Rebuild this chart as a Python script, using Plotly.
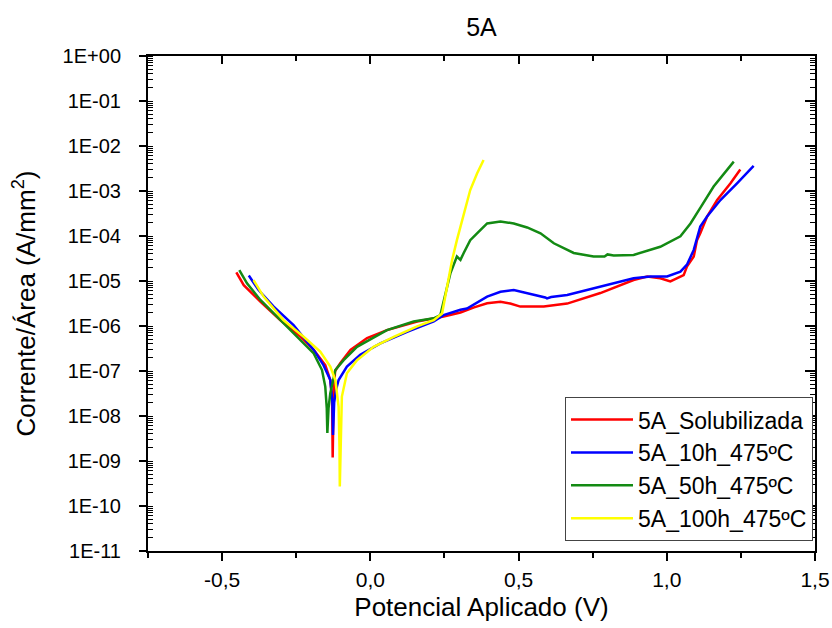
import plotly.graph_objects as go

# ---- data (potential in V, current density in A/mm^2) ----
sol_v = [-0.452, -0.427, -0.371, -0.304, -0.236, -0.191, -0.152, -0.135, -0.129, -0.127,
         -0.124, -0.119, -0.101, -0.067, -0.011, 0.056, 0.158, 0.247, 0.304, 0.326,
         0.350, 0.394, 0.439, 0.472, 0.506, 0.585, 0.664, 0.776, 0.888, 0.934,
         0.978, 1.012, 1.035, 1.057, 1.068, 1.091, 1.102, 1.113, 1.136, 1.170, 1.215, 1.248]
sol_i = [1.55e-5, 8.1e-6, 3.5e-6, 1.35e-6, 5.8e-7, 2.95e-7, 1.35e-7, 6.3e-8, 2.5e-8, 1.2e-9,
         2.5e-8, 1.0e-7, 1.5e-7, 2.95e-7, 5.4e-7, 8.1e-7, 1.26e-6, 1.62e-6, 2.0e-6, 2.3e-6,
         2.6e-6, 3.2e-6, 3.45e-6, 3.15e-6, 2.7e-6, 2.7e-6, 3.15e-6, 5.4e-6, 1.05e-5, 1.26e-5,
         1.15e-5, 9.8e-6, 1.15e-5, 1.35e-5, 2.1e-5, 3.5e-5, 8.1e-5, 1.15e-4, 2.7e-4, 6.3e-4, 1.48e-3, 3.0e-3]

h10_v = [-0.410, -0.377, -0.326, -0.259, -0.191, -0.158, -0.135, -0.128, -0.126, -0.122,
         -0.115, -0.107, -0.079, -0.034, 0.034, 0.124, 0.214, 0.247, 0.304, 0.326,
         0.394, 0.439, 0.484, 0.529, 0.574, 0.590, 0.596, 0.610, 0.664, 0.776,
         0.888, 0.945, 1.001, 1.046, 1.068, 1.091, 1.113, 1.136, 1.181, 1.237, 1.293]
h10_i = [1.32e-5, 6.3e-6, 2.7e-6, 1.05e-6, 2.95e-7, 1.35e-7, 6.3e-8, 2.0e-8, 3.8e-9, 2.0e-8,
         4.0e-8, 6.3e-8, 1.26e-7, 2.3e-7, 4.1e-7, 7.4e-7, 1.26e-6, 1.74e-6, 2.3e-6, 2.45e-6,
         4.5e-6, 5.75e-6, 6.3e-6, 5.4e-6, 4.7e-6, 4.3e-6, 4.1e-6, 4.4e-6, 4.9e-6, 7.4e-6,
         1.15e-5, 1.26e-5, 1.26e-5, 1.62e-5, 2.3e-5, 4.9e-5, 1.62e-4, 2.7e-4, 6.3e-4, 1.48e-3, 3.6e-3]

h50_v = [-0.442, -0.416, -0.371, -0.304, -0.236, -0.191, -0.163, -0.152, -0.147, -0.145,
         -0.141, -0.135, -0.118, -0.090, -0.045, 0.023, 0.056, 0.146, 0.214, 0.236,
         0.252, 0.270, 0.292, 0.304, 0.315, 0.337, 0.360, 0.394, 0.439, 0.484,
         0.529, 0.574, 0.619, 0.686, 0.753, 0.790, 0.800, 0.821, 0.888, 0.978,
         1.046, 1.080, 1.113, 1.158, 1.226]
h50_i = [1.75e-5, 8.9e-6, 3.8e-6, 1.35e-6, 4.9e-7, 2.45e-7, 1.05e-7, 4.5e-8, 1.5e-8, 4.2e-9,
         1.5e-8, 3.2e-8, 1.05e-7, 1.74e-7, 3.45e-7, 6.3e-7, 8.1e-7, 1.26e-6, 1.48e-6, 1.74e-6,
         4.5e-6, 1.48e-5, 3.5e-5, 2.95e-5, 4.2e-5, 8.1e-5, 1.15e-4, 1.9e-4, 2.1e-4, 1.9e-4,
         1.55e-4, 1.15e-4, 6.9e-5, 4.2e-5, 3.5e-5, 3.5e-5, 3.9e-5, 3.7e-5, 3.8e-5, 5.75e-5,
         9.8e-5, 1.9e-4, 4.2e-4, 1.26e-3, 4.5e-3]

h100_v = [-0.394, -0.360, -0.293, -0.225, -0.169, -0.135, -0.118, -0.107, -0.104, -0.103,
          -0.100, -0.096, -0.079, -0.045, 0.011, 0.079, 0.158, 0.214, 0.242, 0.259,
          0.276, 0.292, 0.315, 0.337, 0.360, 0.382]
h100_i = [1.05e-5, 4.5e-6, 1.35e-6, 5.75e-7, 2.7e-7, 1.26e-7, 6.3e-8, 1.6e-8, 2.0e-9, 2.7e-10,
          2.0e-9, 2.7e-8, 8.9e-8, 1.74e-7, 3.45e-7, 5.75e-7, 9.8e-7, 1.35e-6, 1.9e-6, 7.6e-6,
          2.95e-5, 8.1e-5, 3.2e-4, 1.05e-3, 2.45e-3, 4.9e-3]

series_names = ["5A_Solubilizada", "5A_10h_475ºC", "5A_50h_475ºC", "5A_100h_475ºC"]
series_colors = ["#FF0000", "#0000FF", "#138A13", "#FFFF00"]

x_tickvals = [-0.5, 0.0, 0.5, 1.0, 1.5]
x_ticktext = ["-0,5", "0,0", "0,5", "1,0", "1,5"]
y_tickvals = [1e0, 1e-1, 1e-2, 1e-3, 1e-4, 1e-5, 1e-6, 1e-7, 1e-8, 1e-9, 1e-10, 1e-11]
y_ticktext = ["1E+00", "1E-01", "1E-02", "1E-03", "1E-04", "1E-05", "1E-06",
              "1E-07", "1E-08", "1E-09", "1E-10", "1E-11"]

FONT = "Liberation Sans, Arial, sans-serif"

fig = go.Figure()
for v, i, name, col in zip([sol_v, h10_v, h50_v, h100_v], [sol_i, h10_i, h50_i, h100_i],
                           series_names, series_colors):
    fig.add_trace(go.Scatter(x=v, y=i, mode="lines", name=name,
                             line=dict(color=col, width=2.5)))

# invisible trace to carry the mirrored (top/right) axes
fig.add_trace(go.Scatter(x=[None], y=[None], xaxis="x2", yaxis="y2",
                         showlegend=False, hoverinfo="skip"))

fig.update_layout(
    width=832, height=628,
    paper_bgcolor="white", plot_bgcolor="white",
    margin=dict(l=148, r=17, t=56, b=77, autoexpand=False),
    font=dict(family=FONT, color="black"),
    title=dict(text="5A", x=0.5, xref="paper", xanchor="center",
               y=1 - 27 / 628, yanchor="middle", font=dict(size=25, family=FONT)),
    xaxis=dict(range=[-0.75, 1.5], tickmode="array", tickvals=x_tickvals, ticktext=x_ticktext,
               automargin=False, ticklabelstandoff=1,
               showline=True, linecolor="black", linewidth=2, showgrid=False, zeroline=False,
               ticks="outside", ticklen=8, tickwidth=2, tickcolor="black",
               tickfont=dict(size=21, family=FONT),
               minor=dict(dtick=0.25, tick0=0, ticks="outside", ticklen=5, tickwidth=1.5,
                          tickcolor="black", showgrid=False),
               title=dict(text="Potencial Aplicado (V)", font=dict(size=26, family=FONT), standoff=8)),
    yaxis=dict(type="log", range=[-11, 0], tickmode="array", tickvals=y_tickvals, ticktext=y_ticktext,
               automargin=False, ticklabelstandoff=14,
               showline=True, linecolor="black", linewidth=2, showgrid=False, zeroline=False,
               ticks="outside", ticklen=7, tickwidth=2, tickcolor="black",
               tickfont=dict(size=20, family=FONT),
               minor=dict(dtick="D1", ticks="inside", ticklen=5, tickwidth=1,
                          tickcolor="black", showgrid=False),
               title=dict(text="Corrente/Área (A/mm<sup>2</sup>)", font=dict(size=26, family=FONT),
                          standoff=20)),
    xaxis2=dict(overlaying="x", side="top", anchor="y2", range=[-0.75, 1.5],
                automargin=False,
                tickmode="array", tickvals=x_tickvals, showticklabels=False,
                showline=True, linecolor="black", linewidth=2, showgrid=False, zeroline=False,
                ticks="inside", ticklen=8, tickwidth=2, tickcolor="black",
                minor=dict(dtick=0.25, tick0=0, ticks="inside", ticklen=5, tickwidth=1.5,
                           tickcolor="black", showgrid=False)),
    yaxis2=dict(overlaying="y", side="right", anchor="x2", type="log", range=[-11, 0],
                automargin=False,
                tickmode="array", tickvals=y_tickvals, showticklabels=False,
                showline=True, linecolor="black", linewidth=2, showgrid=False, zeroline=False,
                ticks="inside", ticklen=10, tickwidth=2, tickcolor="black",
                minor=dict(dtick="D1", ticks="inside", ticklen=5, tickwidth=1,
                           tickcolor="black", showgrid=False)),
    legend=dict(x=0.997, xanchor="right", y=0.02, yanchor="bottom",
                bgcolor="white", bordercolor="#444444", borderwidth=1,
                font=dict(size=23, family=FONT), tracegroupgap=0, itemwidth=62),
    showlegend=True,
)

fig.write_html("out.html", config={"displayModeBar": False},
               post_script="document.body.style.margin='0px';")
